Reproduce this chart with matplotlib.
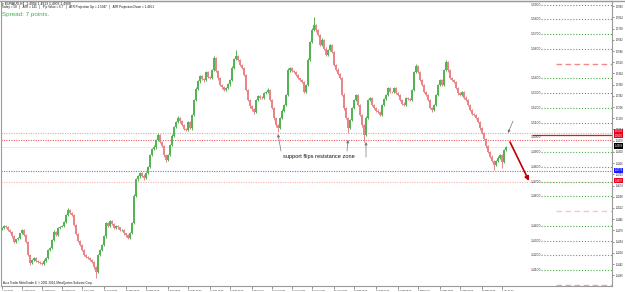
import matplotlib
matplotlib.use('Agg')
import matplotlib.pyplot as plt
from matplotlib.lines import Line2D
import numpy as np

plt.rcParams['font.family'] = ['Liberation Sans', 'DejaVu Sans']

# ---------------- data ----------------
first_open = 1.4378
closes = [
    1.4387, 1.4400, 1.4395, 1.4372, 1.4360, 1.4330, 1.4292, 1.4310, 1.4319, 1.4350,
    1.4373, 1.4339, 1.4290, 1.4203, 1.4149, 1.4170, 1.4183, 1.4160, 1.4156, 1.4148,
    1.4142, 1.4165, 1.4183, 1.4237, 1.4250, 1.4305, 1.4360, 1.4340, 1.4387, 1.4395,
    1.4400, 1.4430, 1.4474, 1.4508, 1.4490, 1.4474, 1.4407, 1.4346, 1.4300, 1.4271,
    1.4240, 1.4203, 1.4190, 1.4183, 1.4170, 1.4156, 1.4120, 1.4088, 1.4203, 1.4240,
    1.4271, 1.4330, 1.4420, 1.4400, 1.4434, 1.4410, 1.4387, 1.4400, 1.4390, 1.4373,
    1.4373, 1.4350, 1.4339, 1.4320, 1.4353, 1.4420, 1.4603, 1.4718, 1.4740, 1.4759,
    1.4740, 1.4725, 1.4759, 1.4800, 1.4881, 1.4920, 1.4935, 1.4980, 1.5017, 1.4969,
    1.4940, 1.4880, 1.4847, 1.4881, 1.4949, 1.5010, 1.5070, 1.5105, 1.5132, 1.5110,
    1.5084, 1.5060, 1.5051, 1.5105, 1.5064, 1.5152, 1.5254, 1.5330, 1.5380, 1.5416,
    1.5395, 1.5389, 1.5443, 1.5410, 1.5403, 1.5457, 1.5538, 1.5450, 1.5403, 1.5356,
    1.5340, 1.5322, 1.5335, 1.5360, 1.5389, 1.5470, 1.5530, 1.5552, 1.5525, 1.5490,
    1.5471, 1.5423, 1.5322, 1.5254, 1.5210, 1.5190, 1.5172, 1.5254, 1.5280, 1.5270,
    1.5267, 1.5300, 1.5308, 1.5322, 1.5254, 1.5199, 1.5132, 1.5084, 1.5064, 1.5132,
    1.5180, 1.5220, 1.5288, 1.5457, 1.5471, 1.5450, 1.5443, 1.5423, 1.5400, 1.5389,
    1.5376, 1.5308, 1.5356, 1.5525, 1.5647, 1.5728, 1.5762, 1.5728, 1.5694, 1.5627,
    1.5660, 1.5600, 1.5560, 1.5590, 1.5627, 1.5579, 1.5491, 1.5460, 1.5430, 1.5403,
    1.5288, 1.5199, 1.5132, 1.5064, 1.5118, 1.5199, 1.5254, 1.5288, 1.5220, 1.5152,
    1.5084, 1.5017, 1.5132, 1.5254, 1.5267, 1.5220, 1.5200, 1.5180, 1.5172, 1.5152,
    1.5220, 1.5260, 1.5288, 1.5335, 1.5310, 1.5308, 1.5335, 1.5300, 1.5288, 1.5254,
    1.5230, 1.5220, 1.5267, 1.5260, 1.5254, 1.5322, 1.5443, 1.5484, 1.5443, 1.5389,
    1.5356, 1.5310, 1.5288, 1.5254, 1.5200, 1.5186, 1.5220, 1.5288, 1.5356, 1.5389,
    1.5356, 1.5457, 1.5511, 1.5457, 1.5403, 1.5390, 1.5376, 1.5335, 1.5300, 1.5288,
    1.5308, 1.5270, 1.5254, 1.5220, 1.5186, 1.5160, 1.5152, 1.5132, 1.5105, 1.5064,
    1.5030, 1.4990, 1.4940, 1.4900, 1.4870, 1.4840, 1.4813, 1.4840, 1.4861, 1.4881,
    1.4834, 1.4915, 1.4935,
]
upper_wick_pips = [
    6, 8, 4, 7, 5, 9, 6, 4, 8, 5,
    7, 5, 9, 6, 10, 4, 7, 5, 8, 6,
    5, 9, 6, 7, 4, 8, 10, 6, 5, 7,
    8, 6, 9, 12, 5, 7, 6, 8, 4, 6,
    7, 5, 8, 6, 9, 5, 7, 10, 8, 6,
    9, 7, 10, 6, 8, 5, 7, 9, 6, 5,
    6, 8, 5, 7, 9, 10, 12, 8, 6, 9,
    7, 10, 6, 8, 9, 7, 11, 8, 10, 6,
    7, 9, 5, 8, 6, 10, 7, 9, 12, 6,
    8, 5, 7, 9, 6, 8, 10, 9, 11, 8,
    7, 10, 8, 6, 9, 7, 12, 10, 8, 7,
    6, 9, 7, 8, 10, 12, 9, 40, 8, 6,
    7, 9, 6, 8, 10, 7, 9, 8, 6, 7,
    9, 7, 8, 10, 6, 8, 7, 9, 6, 8,
    10, 7, 9, 12, 8, 6, 9, 7, 8, 6,
    7, 9, 8, 12, 10, 14, 55, 9, 8, 10,
    12, 8, 10, 7, 9, 8, 10, 7, 9, 6,
    8, 10, 7, 9, 6, 8, 10, 7, 9, 6,
    7, 9, 10, 8, 6, 9, 7, 8, 10, 6,
    8, 7, 9, 10, 6, 8, 9, 7, 6, 8,
    7, 9, 6, 10, 8, 7, 9, 12, 8, 7,
    9, 6, 8, 7, 10, 8, 6, 9, 7, 8,
    6, 10, 12, 9, 7, 8, 6, 9, 7, 8,
    9, 7, 8, 6, 10, 7, 9, 8, 6, 7,
    8, 6, 9, 7, 10, 8, 7, 9, 12, 8,
    9, 7, 6,
]
lower_wick_pips = [
    7, 5, 9, 6, 8, 10, 7, 5, 6, 8,
    6, 9, 7, 8, 12, 6, 9, 7, 5, 8,
    10, 6, 8, 5, 9, 7, 6, 10, 8, 6,
    5, 8, 7, 6, 9, 7, 10, 8, 9, 7,
    8, 10, 6, 9, 7, 8, 12, 41, 9, 7,
    8, 6, 9, 7, 10, 6, 8, 7, 9, 10,
    7, 9, 12, 8, 10, 7, 9, 8, 10, 12,
    9, 11, 8, 10, 7, 9, 8, 10, 7, 9,
    8, 10, 12, 9, 7, 8, 6, 9, 7, 10,
    9, 7, 10, 8, 9, 11, 7, 8, 9, 10,
    8, 10, 7, 9, 8, 10, 7, 9, 11, 8,
    10, 8, 9, 7, 8, 6, 9, 8, 10, 7,
    9, 8, 10, 7, 9, 12, 10, 8, 9, 7,
    8, 9, 7, 10, 8, 9, 11, 10, 27, 8,
    7, 9, 8, 6, 10, 7, 9, 8, 7, 9,
    8, 10, 7, 9, 8, 6, 9, 10, 8, 9,
    7, 9, 10, 8, 6, 9, 10, 8, 7, 9,
    10, 12, 9, 34, 8, 7, 9, 8, 10, 9,
    10, 48, 8, 7, 9, 10, 8, 7, 9, 8,
    7, 9, 8, 10, 7, 9, 8, 7, 9, 10,
    8, 7, 9, 8, 10, 7, 8, 9, 7, 8,
    9, 8, 10, 7, 9, 12, 8, 7, 9, 8,
    7, 9, 8, 10, 7, 9, 8, 7, 9, 10,
    8, 9, 7, 10, 8, 9, 7, 10, 9, 11,
    10, 9, 12, 8, 10, 9, 34, 8, 9, 7,
    41, 8, 7,
]

tick_bars = [0, 10, 20, 30, 40, 51, 62, 72, 83, 93, 104, 114, 125, 135, 145,
             155, 166, 176, 187, 198, 208, 219, 229, 240, 250]
tick_labels = ["7 Oct 2013", "14 Oct 04:00", "21 Oct 08:00", "28 Oct 12:00",
               "4 Nov 16:00", "11 Nov 20:00", "19 Nov 00:00", "26 Nov 04:00",
               "3 Dec 08:00", "10 Dec 12:00", "17 Dec 16:00", "24 Dec 20:00",
               "3 Jan 04:00", "10 Jan 08:00", "17 Jan 12:00", "24 Jan 16:00",
               "31 Jan 20:00", "10 Feb 00:00", "17 Feb 04:00", "24 Feb 08:00",
               "3 Mar 12:00", "10 Mar 16:00", "17 Mar 20:00", "25 Mar 00:00",
               "1 Apr 04:00"]

price_ticks = [1.5890, 1.5814, 1.5738, 1.5662, 1.5586, 1.5510, 1.5434, 1.5358,
               1.5282, 1.5206, 1.5130, 1.5054, 1.4978, 1.4902, 1.4826, 1.4750,
               1.4674, 1.4598, 1.4522, 1.4446, 1.4370, 1.4294, 1.4218, 1.4142,
               1.4066]

green_levels = [1.59, 1.58, 1.57, 1.56, 1.54, 1.53, 1.52, 1.51, 1.49, 1.48,
                1.47, 1.46, 1.44, 1.43, 1.42, 1.41]
labelled_levels = [1.59, 1.58, 1.57, 1.56, 1.54, 1.53, 1.52, 1.51, 1.50, 1.49,
                   1.48, 1.47, 1.46, 1.44, 1.43, 1.42, 1.41]
dashed_levels = [1.55, 1.45, 1.40]
dashed_colors = ['#f08a8a', '#f9c6c6', '#f2a4a4']

zone_upper = 1.5028
zone_lower = 1.4983
bid_price = 1.4932
blue_level = 1.4775
pink_level = 1.4700
red_solid_level = 1.5018

axis_boxes = [(1.5042, "1.5028", '#e8001c'), (1.5010, "1.5010", '#e8001c'),
              (1.4942, "1.4908", '#000000'), (1.4779, "1.4776", '#1a1aff'),
              (1.4705, "1.4697", '#e8001c')]

# ---------------- figure ----------------
W, H = 625, 292
fig = plt.figure(figsize=(6.25, 2.92), dpi=100)
fig.patch.set_facecolor('white')
ax = fig.add_axes([1 / W, 6 / H, 611 / W, 285 / H])
ax.set_facecolor('white')
ax.set_xlim(-0.5, 305)
ax.set_ylim(1.39929, 1.5925)

n = len(closes)
x = np.arange(n)
c = np.array(closes)
o = np.array([first_open] + closes[:-1])
hi = np.maximum(o, c) + np.array(upper_wick_pips) * 1e-4
lo = np.minimum(o, c) - np.array(lower_wick_pips) * 1e-4
up = c >= o
cols = np.where(up, '#55b255', '#e6868a')
ax.vlines(x, lo, hi, colors=cols, lw=0.7, zorder=3)
ax.bar(x, np.maximum(np.abs(c - o), 0.00012), bottom=np.minimum(o, c),
       width=0.85, color=cols, lw=0, zorder=3)

# horizontal zone lines
ax.axhline(zone_upper, color='#f2a2a2', ls=(0, (1, 1.2)), lw=0.8, zorder=2)
ax.axhline(zone_lower, color='#ec5e5e', ls=(0, (1, 1.2)), lw=0.8, zorder=2)
ax.axhline(bid_price, color='#e2e2e2', lw=0.5, zorder=1)
ax.axhline(blue_level, color='#7070ff', ls=(0, (1, 1.2)), lw=0.8, zorder=2)
ax.axhline(pink_level, color='#f5b5b5', ls=(0, (1, 1.2)), lw=0.8, zorder=2)
ax.hlines(red_solid_level, 265, 305, color='#e01818', lw=0.9, zorder=4)

# level lines on the right
ax.hlines(green_levels, 269.5, 305, color='#4cae4c', ls=(0, (1, 1.6)), lw=0.8, zorder=2)
for lv, col in zip(dashed_levels, dashed_colors):
    ax.hlines(lv, 277, 305, color=col, ls=(0, (4, 2.5)), lw=1.0, zorder=2)
for lv in labelled_levels:
    ax.text(269.3, lv, f"{lv:.4f}", ha='right', va='center', fontsize=2.4,
            color='#333333', zorder=5)

# annotations
def arrow(tail, head, color='#777777', lw=0.5, ms=4):
    ax.annotate('', xy=head, xytext=tail,
                arrowprops=dict(arrowstyle='-|>', color=color, lw=lw,
                                mutation_scale=ms, shrinkA=0, shrinkB=0),
                zorder=6)

arrow((139.5, 1.4908), (138.0, 1.5023))
arrow((172.5, 1.4908), (173.0, 1.4983))
arrow((182.0, 1.4867), (182.0, 1.4969))
arrow((255.5, 1.5111), (253.0, 1.5030))
arrow((254.0, 1.4969), (263.5, 1.4705), color='#c00000', lw=1.2, ms=6)
ax.text(140.5, 1.4874, "support flips resistance zone", fontsize=4.1,
        color='#111111', ha='left', va='center', zorder=6)

# axes styling
for s in ax.spines.values():
    s.set_color('#9a9a9a')
    s.set_linewidth(0.8)
ax.yaxis.tick_right()
ax.set_yticks(price_ticks)
ax.set_yticklabels([f"{t:.4f}" for t in price_ticks], fontsize=1.8, color='#222222')
ax.tick_params(axis='y', length=1.5, width=0.5, pad=1, colors='#666666', labelcolor='#222222')
ax.set_xticks(tick_bars)
ax.set_xticklabels(tick_labels, fontsize=1.6, ha='left', color='#222222')
ax.tick_params(axis='x', length=2, width=0.5, pad=0.6, colors='#666666', labelcolor='#222222')

for pr, txt, fc in axis_boxes:
    ax.text(1.004, pr, txt, transform=ax.get_yaxis_transform(), fontsize=1.9,
            color='white', ha='left', va='center', clip_on=False, zorder=10,
            bbox=dict(boxstyle='square,pad=0.2', fc=fc, ec='none'))

# window border on top
fig.add_artist(Line2D([0, 1], [1 - 1 / H, 1 - 1 / H], color='#9a9a9a', lw=1.0))

# header texts
def ftext(px, py, s, **kw):
    fig.text(px / W, 1 - py / H, s, va='center', ha='left', **kw)

ftext(2, 3.8, "\u25be EURAUD,H4  1.4904 1.4913 1.4903 1.4908", fontsize=2.4, color='#111111')
ftext(2, 7.3, "Today = 58   |   ATR = 141   |   Pip Value = 6.7   |   "
              "ATR Projection Up = 1.5047   |   ATR Projection Down = 1.4851",
      fontsize=2.2, color='#111111')
ftext(2, 14.5, "Spread: 7 points.", fontsize=4.5, color='#3cb44b')
ftext(3, 283, "Aura Trader MetaTrader 4, \u00a9 2001-2014, MetaQuotes Software Corp.",
      fontsize=2.1, color='#111111')

fig.savefig('out.png', dpi=100, facecolor='white')
